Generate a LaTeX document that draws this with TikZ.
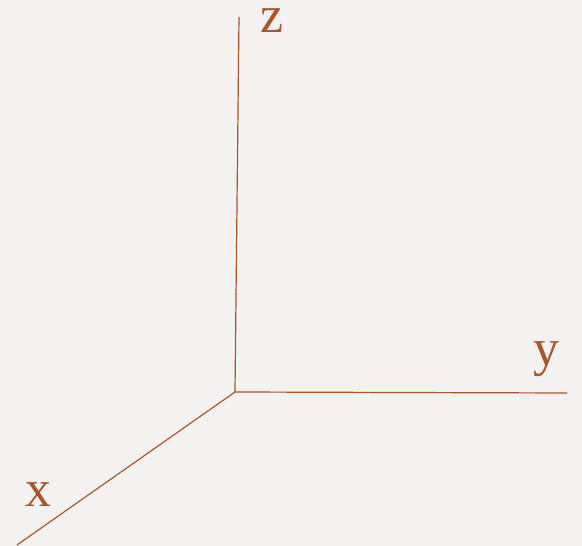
\documentclass[tikz,border=0pt]{standalone}
\usepackage{fontspec}
\setmainfont{Liberation Serif}
\definecolor{axiscol}{HTML}{A9552D}
\definecolor{paper}{HTML}{F3F2F0}
\begin{document}
\begin{tikzpicture}[x=1pt,y=1pt,
  axis/.style={draw=axiscol,line width=1.2pt},
  lab/.style={text=axiscol,font=\fontsize{52}{52}\selectfont,anchor=base,inner sep=0pt}]
\fill[paper] (0,0) rectangle (582,546);
\useasboundingbox (0,0) rectangle (582,546);
\coordinate (o) at (235,154);
\coordinate (zend) at (239,529);
\coordinate (yend) at (567,153);
\coordinate (xend) at (17,1);
\draw[axis] (zend) -- (o) -- (yend);
\draw[axis] (o) -- (xend);
\node[lab] (zl) at (272,513) {z};
\node[lab] (yl) at (546,180) {y};
\node[lab] (xl) at (38,39) {x};
\end{tikzpicture}
\end{document}
